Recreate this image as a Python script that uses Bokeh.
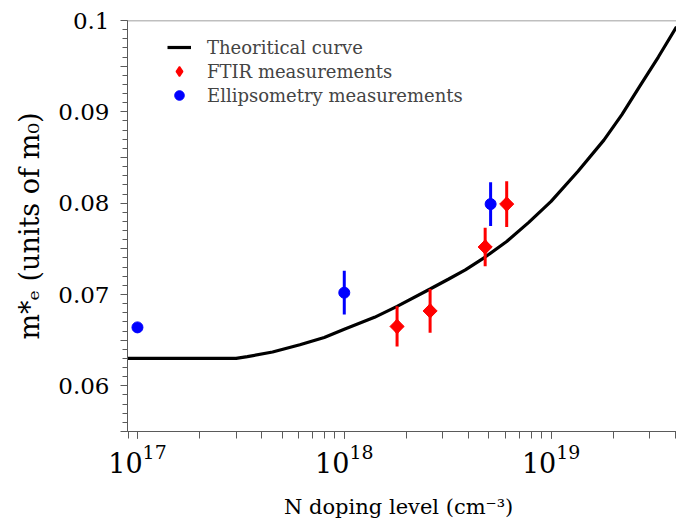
import numpy as np
from bokeh.plotting import figure
from bokeh.models import (Range1d, FixedTicker, Span, Legend, LegendItem,
                          ColumnDataSource)
from bokeh.embed import file_html
from bokeh.resources import INLINE

# ---- data ----
curve_n = [8.95e16, 3.0e17, 3.4e17, 4.5e17, 6.1e17, 8.0e17, 1.0e18, 1.4e18,
           1.8e18, 2.6e18, 3.2e18, 3.85e18, 4.8e18, 6.1e18, 7.8e18, 1.0e19,
           1.35e19, 1.8e19, 2.2e19, 2.7e19, 3.3e19, 4.04e19]
curve_m = [0.0630, 0.0630, 0.0632, 0.0637, 0.0645, 0.0653, 0.0662, 0.0675,
           0.0687, 0.0706, 0.0717, 0.0727, 0.0741, 0.0758, 0.0779, 0.0802,
           0.0835, 0.0869, 0.0897, 0.0929, 0.0960, 0.0993]

ftir_n = [1.8e18, 2.6e18, 4.8e18, 6.1e18]
ftir_m = [0.0665, 0.0682, 0.0752, 0.0799]
ftir_err = [0.0022, 0.0024, 0.0021, 0.0025]

ell_n = [1.0e17, 1.0e18, 5.1e18]
ell_m = [0.0664, 0.0702, 0.0799]
ell_err = [0.0, 0.0024, 0.0024]

y_ticks = [0.055, 0.06, 0.065, 0.07, 0.075, 0.08, 0.085, 0.09, 0.095, 0.1]
y_labels = {0.055: "", 0.06: "0.06", 0.065: "", 0.07: "0.07", 0.075: "",
            0.08: "0.08", 0.085: "", 0.09: "0.09", 0.095: "", 0.1: "0.1"}
y_minor = [round(0.055 + 0.001 * i, 3) for i in range(46)]

FONT = "DejaVu Serif"
AX = "#5a5a5a"

p = figure(width=676, height=528, x_axis_type="log",
           x_range=Range1d(8.95e16, 4.04e19), y_range=Range1d(0.055, 0.1),
           output_backend="svg", toolbar_location=None,
           min_border_left=127, min_border_right=0, min_border_top=20,
           min_border_bottom=97)
p.outline_line_color = None
p.grid.visible = False
p.background_fill_color = "white"

# top frame line
p.add_layout(Span(location=0.1, dimension="width", line_color="#808080",
                  line_width=1.5))

curve = p.line(curve_n, curve_m, line_color="black", line_width=3.2)

ftir_src = ColumnDataSource(dict(x=ftir_n, y=ftir_m,
                                 lo=[m - e for m, e in zip(ftir_m, ftir_err)],
                                 hi=[m + e for m, e in zip(ftir_m, ftir_err)]))
ell_src = ColumnDataSource(dict(x=ell_n, y=ell_m,
                                lo=[m - e for m, e in zip(ell_m, ell_err)],
                                hi=[m + e for m, e in zip(ell_m, ell_err)]))

p.segment(x0="x", y0="lo", x1="x", y1="hi", source=ell_src,
          line_color="blue", line_width=3)
p.segment(x0="x", y0="lo", x1="x", y1="hi", source=ftir_src,
          line_color="red", line_width=3)
# diamond glyph (used for the legend), covered by a rotated square
ftir = p.scatter("x", "y", source=ftir_src, marker="diamond", size=14,
                 fill_color="red", line_color="red", line_width=1.5)
p.scatter("x", "y", source=ftir_src, marker="square", angle=np.pi / 4,
          size=10, fill_color="red", line_color="red")
ell = p.scatter("x", "y", source=ell_src, marker="circle", size=11,
                fill_color="blue", line_color="blue")

# axes
for ax in (p.xaxis[0], p.yaxis[0]):
    ax.axis_line_color = AX
    ax.major_tick_line_color = AX
    ax.minor_tick_line_color = AX
    ax.major_tick_in = 0
    ax.minor_tick_in = 0
    ax.major_label_text_font = FONT
    ax.major_label_text_color = "black"
    ax.axis_label_text_font = FONT
    ax.axis_label_text_font_style = "normal"
    ax.axis_label_text_color = "black"

p.xaxis.major_tick_out = 7
p.xaxis.minor_tick_out = 7
p.xaxis.major_label_text_font_size = "27px"
p.xaxis.axis_label = "N doping level  (cm\u207b\u00b3)"
p.xaxis.axis_label_text_font_size = "21px"
p.xaxis.axis_label_standoff = 19

p.yaxis.ticker = FixedTicker(ticks=y_ticks, minor_ticks=y_minor)
p.yaxis.major_label_overrides = y_labels
p.yaxis.major_tick_out = 7
p.yaxis.minor_tick_out = 5
p.yaxis.major_label_standoff = 11
p.yaxis.major_label_text_font_size = "23px"
p.yaxis.axis_label = "m*\u2091 (units of m\u2080)"
p.yaxis.axis_label_text_font_size = "27px"
p.yaxis.axis_label_standoff = 10

legend = Legend(items=[LegendItem(label="Theoritical curve", renderers=[curve]),
                       LegendItem(label="FTIR measurements", renderers=[ftir]),
                       LegendItem(label="Ellipsometry measurements", renderers=[ell])],
                location=(40, 324), border_line_color=None,
                background_fill_alpha=0, padding=0, margin=0, spacing=0,
                label_height=24, glyph_height=24, glyph_width=24,
                label_standoff=16, label_text_font=FONT,
                label_text_font_size="18px")
p.add_layout(legend)

open("out.html", "w").write(file_html(p, INLINE))
